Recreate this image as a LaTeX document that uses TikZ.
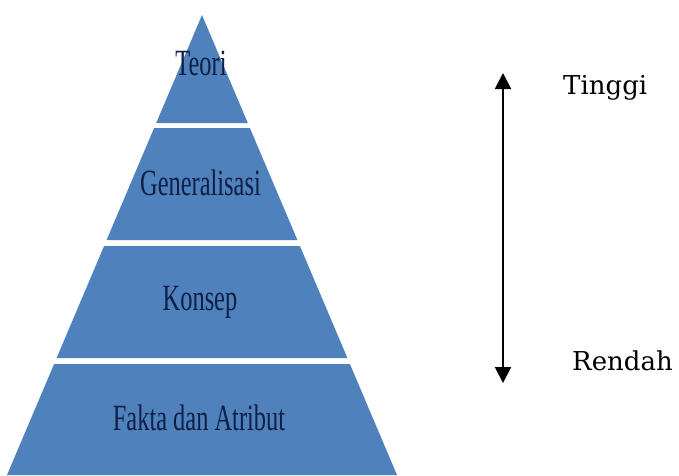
\documentclass[tikz,border=0pt]{standalone}
\usepackage{fontspec}
\setmainfont{Liberation Serif}
\newfontfamily\labelfont{DejaVu Serif}
\usetikzlibrary{arrows.meta}
\definecolor{layerblue}{HTML}{4F81BD}
\definecolor{layertext}{HTML}{0F1F45}
\begin{document}
\begin{tikzpicture}[x=1pt, y=-1pt,
    layer/.style={fill=layerblue, draw=none},
    layerlabel/.style={text=layertext, font=\fontsize{37}{37}\selectfont, xscale=0.66, anchor=base, inner sep=0pt},
    sidelabel/.style={font=\labelfont\fontsize{26}{26}\selectfont, anchor=base west, inner sep=0pt}]
    \useasboundingbox (0,0) rectangle (679,475);

    % Pyramid layers
    \fill[layer] (202,15) -- (247.8,123) -- (156.2,123) -- cycle;
    \fill[layer] (154.1,128) -- (249.9,128) -- (297.4,240) -- (106.6,240) -- cycle;
    \fill[layer] (104.1,246) -- (299.9,246) -- (347.4,358) -- (56.6,358) -- cycle;
    \fill[layer] (54.1,364) -- (349.9,364) -- (397,475) -- (7,475) -- cycle;

    % Layer labels
    \node[layerlabel] (teori) at (201,75) {Teori};
    \node[layerlabel] (generalisasi) at (200.5,195) {Generalisasi};
    \node[layerlabel] (konsep) at (200,310) {Konsep};
    \node[layerlabel] (fakta) at (199,430) {Fakta dan Atribut};

    % Scale arrow
    \coordinate (high) at (503,73);
    \coordinate (low) at (503,383);
    \draw[line width=2pt, {Triangle[width=16pt,length=16pt]}-{Triangle[width=16pt,length=16pt]}] (low) -- (high);

    \node[sidelabel] (tinggi) at (563,94) {Tinggi};
    \node[sidelabel] (rendah) at (572,370) {Rendah};
\end{tikzpicture}
\end{document}
